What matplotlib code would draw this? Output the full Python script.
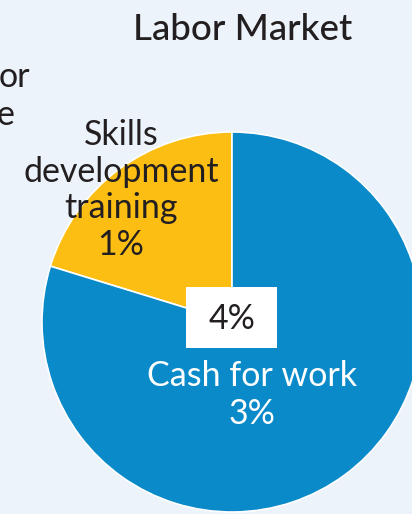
import matplotlib.pyplot as plt
from matplotlib.patches import Rectangle

plt.rcParams['font.family'] = ['Lato', 'DejaVu Sans']

# Labor market programmes, share of spending (%)
categories = ["Skills\ndevelopment\ntraining", "Cash for work"]
shares = [0.8, 3.15]
colors = ["#FDBE14", "#0A8AC8"]
label_colors = ["#231F20", "white"]
title = "Labor Market"

bg = "#ECF3FB"
fig = plt.figure(figsize=(4.12, 5.14), dpi=100, facecolor=bg)
ax = fig.add_axes([0, 0, 1, 1])

cx, cy, r = 232, 514 - 322, 190
wedges, _ = ax.pie(shares, colors=colors, startangle=90, counterclock=True,
                   center=(cx, cy), radius=r, explode=[0.02, 0],
                   wedgeprops=dict(edgecolor="white", linewidth=1.2))

# pie() resets the limits, so fix them afterwards (1 unit = 1 pixel)
ax.set_xlim(0, 412)
ax.set_ylim(0, 514)
ax.set_aspect("equal")
ax.axis("off")

# slice labels
ax.text(121, 514 - 190, f"{categories[0]}\n{shares[0]:.0f}%", ha="center", va="center",
        fontsize=24.5, color=label_colors[0], linespacing=1.18)
ax.text(252, 514 - 395, f"{categories[1]}\n{shares[1]:.0f}%", ha="center", va="center",
        fontsize=24.5, color=label_colors[1], linespacing=1.2)

# total in a white box at the centre
total = sum(shares)
bw, bh = 91, 61
ax.add_patch(Rectangle((cx - bw / 2, cy + 4.5 - bh / 2), bw, bh,
                       facecolor="white", edgecolor="none", zorder=3))
ax.text(cx, cy + 3, f"{total:.0f}%", ha="center", va="center", fontsize=24.5,
        color="#231F20", zorder=4)

ax.text(243, 514 - 30, title, ha="center", va="center", fontsize=26.5,
        color="#231F20", fontweight="medium")

# edge of the neighbouring panel's title
ax.text(-1, 514 - 77, "or", ha="left", va="center", fontsize=24.5, color="#231F20")
ax.text(-3, 514 - 115, "e", ha="left", va="center", fontsize=24.5, color="#231F20")

fig.savefig("out.png", dpi=100, facecolor=bg)
